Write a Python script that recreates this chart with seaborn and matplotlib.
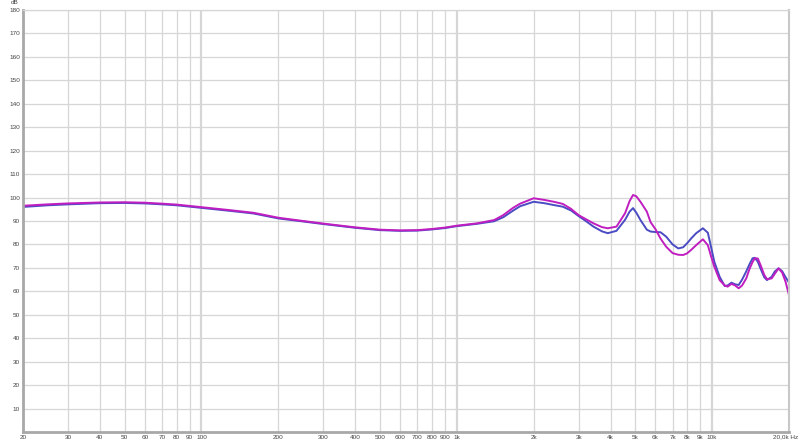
import pandas as pd
import seaborn as sns
import matplotlib.pyplot as plt

# frequency points (Hz)
freqs = [20, 25, 30, 40, 50, 60, 70, 80, 100, 130, 160, 200, 250, 300, 400, 500,
         600, 700, 800, 900, 1000, 1200, 1400, 1520, 1660, 1770, 2000, 2200, 2400,
         2600, 2800, 3000, 3200, 3430, 3700, 3900, 4220, 4560, 4750, 4900, 5050,
         5240, 5550, 5740, 6000, 6280, 6610, 7000, 7370, 7700, 7980, 8300, 8660,
         9200, 9620, 9900, 10200, 10700, 11200, 11500, 11900, 12300, 12700, 13100,
         13600, 14000, 14400, 14700, 15100, 15500, 16000, 16400, 17100, 17600,
         18200, 18800, 19400, 20000]

blue_db = [96.0, 96.7, 97.1, 97.6, 97.7, 97.5, 97.1, 96.7, 95.6, 94.3, 93.2, 91.1,
           89.8, 88.7, 87.1, 86.1, 85.8, 85.9, 86.4, 87.0, 87.8, 88.8, 89.9, 91.6,
           94.4, 96.3, 98.2, 97.6, 96.8, 96.1, 94.5, 92.1, 90.0, 87.6, 85.6, 84.8,
           85.8, 90.5, 94.0, 95.5, 93.5, 90.4, 86.3, 85.5, 85.3, 85.2, 83.3, 80.0,
           78.3, 78.8, 80.5, 82.7, 84.8, 86.9, 85.0, 79.0, 72.6, 66.2, 62.3, 62.5,
           63.7, 63.0, 62.7, 65.0, 68.5, 71.5, 74.1, 74.3, 72.6, 69.5, 66.0, 64.8,
           66.2, 68.5, 69.8, 68.6, 66.0, 63.7]

magenta_db = [96.5, 97.1, 97.5, 97.9, 98.0, 97.8, 97.4, 97.0, 95.9, 94.6, 93.5, 91.4,
              90.0, 88.9, 87.3, 86.3, 86.0, 86.1, 86.6, 87.2, 88.0, 89.0, 90.4, 92.5,
              95.6, 97.4, 99.7, 99.0, 98.2, 97.3, 95.2, 92.5, 90.8, 89.0, 87.4, 86.9,
              87.6, 93.3, 98.5, 101.1, 100.5, 98.2, 94.0, 89.5, 86.5, 82.5, 79.0, 76.3,
              75.6, 75.5, 76.2, 77.8, 79.7, 82.2, 79.7, 75.0, 70.5, 64.8, 62.5, 62.0,
              63.2, 62.5, 61.3, 62.5, 65.5, 69.5, 72.5, 74.1, 74.0, 71.0, 67.0, 65.2,
              65.5, 67.5, 69.8, 68.0, 64.0, 58.4]

x_ticks = [20, 30, 40, 50, 60, 70, 80, 90, 100, 200, 300, 400, 500, 600, 700, 800,
           900, 1000, 2000, 3000, 4000, 5000, 6000, 7000, 8000, 9000, 10000]
x_labels = ['20', '30', '40', '50', '60', '70', '80', '90', '100', '200', '300', '400',
            '500', '600', '700', '800', '900', '1k', '2k', '3k', '4k', '5k', '6k', '7k',
            '8k', '9k', '10k']
end_label = '20,0k Hz'
y_ticks = list(range(10, 190, 10))

df = pd.concat([
    pd.DataFrame({'freq': freqs, 'spl': blue_db, 'curve': 'A'}),
    pd.DataFrame({'freq': freqs, 'spl': magenta_db, 'curve': 'B'}),
])

sns.set_style('white')
plt.rcParams['font.family'] = ['Liberation Sans', 'DejaVu Sans']

fig = plt.figure(figsize=(8, 4.43), dpi=100)
ax = fig.add_axes([23 / 800, 11 / 443, 766 / 800, 422 / 443])

# grid
for f in x_ticks:
    lw = 1.6 if f in (100, 1000, 10000) else 0.9
    ax.axvline(f, color='#d6d6d6', lw=lw, zorder=0)
for v in y_ticks:
    ax.axhline(v, color='#d6d6d6', lw=0.9, zorder=0)

sns.lineplot(data=df, x='freq', y='spl', hue='curve',
             palette={'A': '#4b4bc4', 'B': '#c01ec0'},
             linewidth=1.4, legend=False, ax=ax)

ax.set_xscale('log')
ax.set_xlim(20, 20000)
ax.set_ylim(0, 180)
ax.set_xticks(x_ticks)
ax.set_xticklabels(x_labels)
ax.minorticks_off()
ax.set_yticks(y_ticks)
ax.set_xlabel('')
ax.set_ylabel('')
ax.tick_params(axis='both', length=0, labelsize=4.6, labelcolor='#444444')
ax.tick_params(axis='x', pad=2.5)
ax.tick_params(axis='y', pad=2)

for side in ['left', 'bottom']:
    ax.spines[side].set_color('#a8a8a8')
    ax.spines[side].set_linewidth(2)
ax.spines['right'].set_color('#c8c8c8')
ax.spines['right'].set_linewidth(1.5)
ax.spines['top'].set_color('#d6d6d6')
ax.spines['top'].set_linewidth(0.9)

fig.text(798 / 800, 1 - 437 / 443, end_label, fontsize=4.6, color='#444444',
         ha='right', va='center')
fig.text(15 / 800, 1 - 3 / 443, 'dB', fontsize=4.6, color='#444444',
         ha='center', va='center')

fig.savefig('out.png', dpi=100)
